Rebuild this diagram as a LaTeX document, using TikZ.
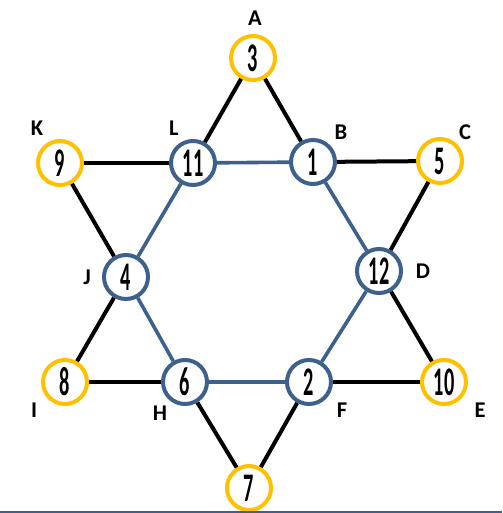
\documentclass[tikz,border=0pt]{standalone}
\usepackage{fontspec}
\setmainfont{Carlito}
\usepackage{xcolor}
\usetikzlibrary{positioning}
\definecolor{gold}{RGB}{255,192,0}
\definecolor{steel}{RGB}{62,96,140}
\newcommand{\tallnum}[1]{\scalebox{0.85}[1.7]{\fontsize{17}{17}\selectfont\bfseries #1}}

\begin{document}
\begin{tikzpicture}[x=0.025cm, y=-0.025cm,
        outer/.style={circle, draw=gold, line width=0.1cm, fill=white, minimum size=1.1cm, inner sep=0pt},
        inner/.style={circle, draw=steel, line width=0.1cm, fill=white, minimum size=1.1cm, inner sep=0pt},
        blk/.style={line width=0.1cm, black},
        blu/.style={line width=0.09cm, steel},
        lbl/.style={font=\fontsize{16}{16}\selectfont\bfseries}]
        \useasboundingbox (0,0) rectangle (502,513);
        % inner hexagon
        \node[inner] (L) at (193,163) {\tallnum{11}};
        \node[inner] (B) at (313,162) {\tallnum{1}};
        \node[inner] (D) at (379,271) {\tallnum{12}};
        \node[inner] (F) at (309,382) {\tallnum{2}};
        \node[inner] (H) at (185,382) {\tallnum{6}};
        \node[inner] (J) at (126,277) {\tallnum{4}};
        % outer points
        \node[outer] (A) at (253,58) {\tallnum{3}};
        \node[outer] (C) at (440,161) {\tallnum{5}};
        \node[outer] (E) at (444,382) {\tallnum{10}};
        \node[outer] (G) at (249,488) {\tallnum{7}};
        \node[outer] (I) at (65,382) {\tallnum{8}};
        \node[outer] (K) at (60,163) {\tallnum{9}};
        % black lines
        \draw[blk] (A) -- (L);
        \draw[blk] (A) -- (B);
        \draw[blk] (K) -- (L);
        \draw[blk] (B) -- (C);
        \draw[blk] (K) -- (J);
        \draw[blk] (C) -- (D);
        \draw[blk] (J) -- (I);
        \draw[blk] (D) -- (E);
        \draw[blk] (I) -- (H);
        \draw[blk] (F) -- (E);
        \draw[blk] (H) -- (G);
        \draw[blk] (F) -- (G);
        % blue lines
        \draw[blu] (L) -- (B);
        \draw[blu] (B) -- (D);
        \draw[blu] (D) -- (F);
        \draw[blu] (F) -- (H);
        \draw[blu] (H) -- (J);
        \draw[blu] (J) -- (L);
        % letters
        \node[lbl] (tA) at (255,18) {A};
        \node[lbl] (tB) at (341,132) {B};
        \node[lbl] (tC) at (465,132) {C};
        \node[lbl] (tD) at (423,271) {D};
        \node[lbl] (tE) at (480,410) {E};
        \node[lbl] (tF) at (342,410) {F};
        \node[lbl] (tH) at (160,413) {H};
        \node[lbl] (tI) at (34,410) {I};
        \node[lbl] (tJ) at (87,277) {J};
        \node[lbl] (tK) at (37,128) {K};
        \node[lbl] (tL) at (174,128) {L};
        \coordinate (b1) at (0,512);
        \coordinate (b2) at (502,512);
        \draw[steel, line width=0.03cm] (b1) -- (b2);
\end{tikzpicture}
\end{document}
